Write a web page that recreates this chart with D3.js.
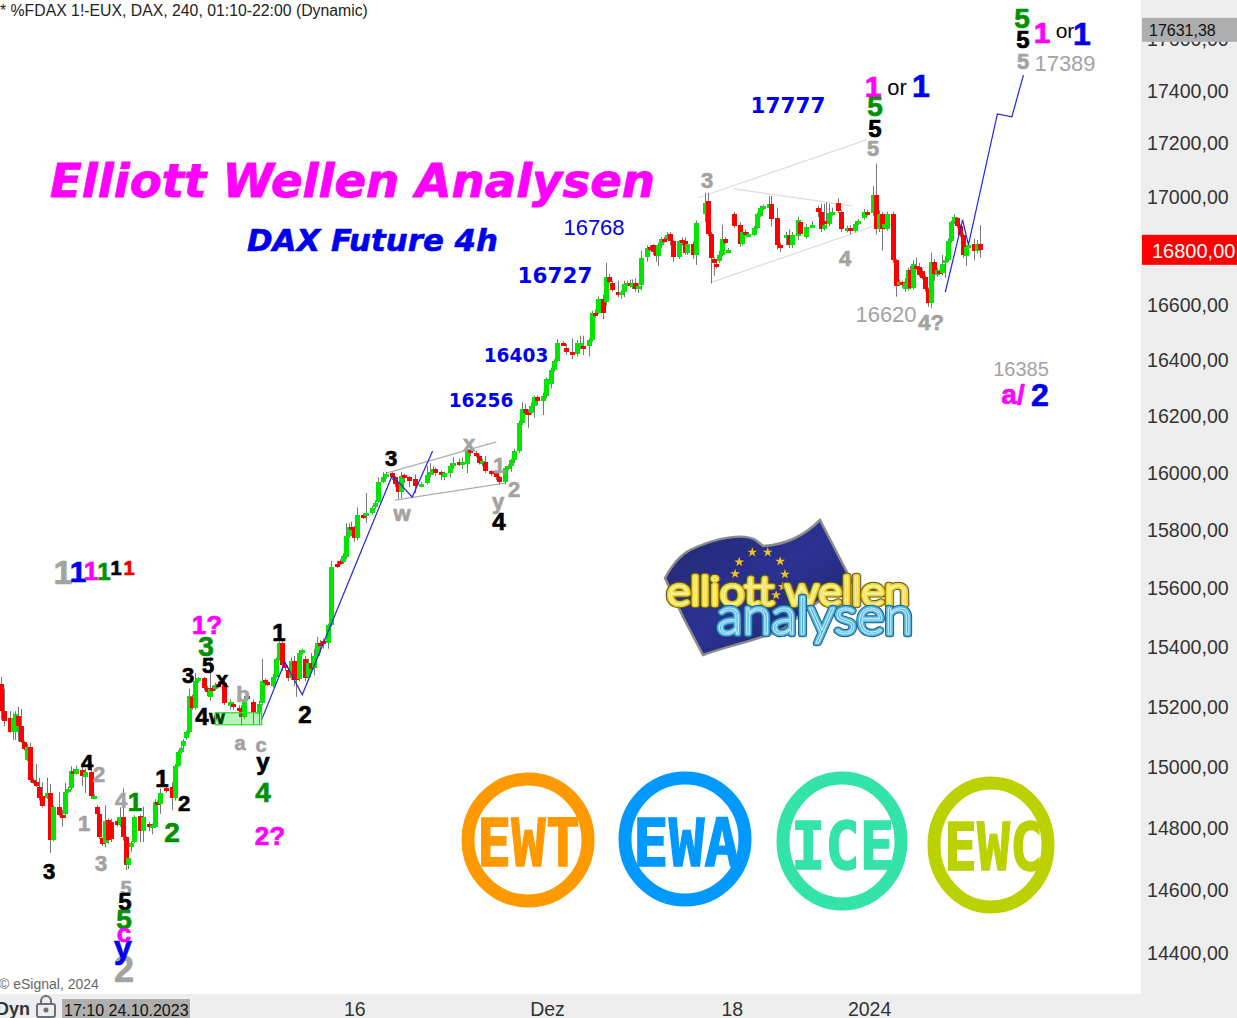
<!DOCTYPE html>
<html><head><meta charset="utf-8">
<script src="https://cdnjs.cloudflare.com/ajax/libs/d3/7.9.0/d3.min.js"></script>
<style>html,body{margin:0;padding:0;background:#fff;overflow:hidden}svg{display:block}text{font-family:"Liberation Sans",Arial,sans-serif}</style>
</head><body><svg id="c" width="1237" height="1018"></svg>
<script>
// candles: [bar, open, high, low, close]
const octoberCandles=[[0,15277,15300,15157,15187],[1,15187,15260,15135,15153],[3,15163,15185,15113,15117],[4,15117,15180,15090,15163],[5,15117,15185,15090,15175],[6,15170,15200,15085,15135],[7,15135,15193,15080,15082],[8,15082,15088,15055,15060],[9,15023,15076,15020,15066],[10,15066,15080,14950,14958],[11,14958,14965,14945,14950],[12,14950,15010,14935,14938],[13,14935,14965,14890,14900],[14,14905,14950,14868,14873],[16,14900,14965,14895,14916],[17,14916,14945,14720,14762],[18,14762,14875,14758,14868],[20,14868,14918,14838,14842],[21,14842,14860,14805,14838],[22,14845,14948,14832,14918],[23,14918,14935,14915,14928],[24,14932,15003,14925,14987],[25,14987,14995,14975,14980],[26,14978,15005,14975,14994],[28,14990,15000,14938,14970],[29,14968,14995,14915,14985],[31,14985,15015,14895,14906],[32,14900,14910,14895,14906],[33,14870,14875,14842,14845],[34,14845,14850,14765,14770],[35,14768,14770,14742,14750],[36,14752,14875,14738,14825],[37,14828,14832,14750,14762],[38,14820,14830,14755,14765],[40,14825,14835,14805,14810],[41,14810,14868,14805,14835],[42,14838,14930,14760,14770],[43,14770,14775,14665,14680],[44,14680,14710,14668,14704],[45,14740,14758,14725,14752],[46,14755,14842,14752,14835],[48,14840,14845,14755,14790],[49,14790,14870,14755,14835],[51,14815,14820,14790,14803],[52,14803,14815,14780,14810],[53,14803,14895,14800,14885],[54,14885,14890,14870,14878],[55,14878,14930,14847,14915],[57,14930,14935,14915,14922],[59,14935,14950,14858,14898],[60,14898,15010,14890,15003],[61,15003,15055,15000,15050],[62,15050,15068,15045,15063],[63,15070,15092,15050,15087],[64,15095,15120,15090,15115],[65,15115,15260,15110,15237],[66,15233,15240,15190,15197],[67,15197,15313,15190,15285],[68,15285,15300,15280,15297],[70,15297,15300,15255,15263],[71,15263,15270,15235,15250],[72,15233,15367,15220,15260],[73,15262,15270,15250,15255],[74,15260,15280,15255,15273],[75,15275,15285,15265,15270],[77,15280,15300,15205,15213],[79,15203,15225,15190,15216],[80,15210,15215,15190,15205],[82,15197,15205,15180,15187],[83,15197,15205,15137,15167],[84,15167,15235,15160,15227],[85,15235,15240,15220,15228],[87,15217,15225,15140,15180],[89,15177,15220,15140,15210]];
const novemberCandles=[[90,15213,15360,15205,15285],[91,15290,15295,15270,15280],[92,15283,15290,15268,15273],[94,15270,15310,15265,15300],[95,15300,15365,15295,15360],[96,15360,15420,15355,15414],[97,15414,15420,15320,15340],[98,15340,15350,15320,15333],[99,15322,15330,15285,15296],[100,15296,15365,15290,15353],[101,15353,15370,15270,15290],[102,15300,15320,15233,15290],[103,15293,15390,15285,15380],[104,15380,15395,15375,15390],[105,15360,15370,15285,15296],[106,15300,15360,15290,15345],[107,15345,15380,15320,15328],[108,15330,15395,15305,15370],[109,15370,15435,15365,15414],[110,15414,15425,15380,15408],[111,15420,15430,15395,15414],[113,15414,15480,15395,15475],[114,15475,15695,15470,15672],[116,15685,15695,15670,15678],[117,15695,15700,15680,15688],[118,15690,15720,15685,15710],[119,15708,15825,15700,15782],[120,15782,15825,15775,15810],[121,15810,15830,15800,15805],[122,15810,15815,15760,15772],[123,15772,15880,15765,15855],[125,15855,15860,15840,15848],[126,15850,15930,15825,15860],[128,15860,15885,15855,15877],[129,15880,15905,15875,15895],[130,15900,15985,15895,15970],[132,15970,16003,15965,15987],[133,15985,16005,15980,15998],[135,16000,16003,15975,15985],[136,15985,15990,15950,15960],[137,15960,15965,15910,15935],[138,15935,16005,15912,15990],[139,15993,15998,15965,15985],[141,15985,15990,15950,15973],[143,15980,15995,15930,15955],[145,15955,15968,15950,15962],[147,15965,16025,15960,15993],[148,15993,16035,15985,16003],[149,16003,16025,15995,16013],[150,16013,16020,15990,16000],[152,16003,16010,15975,15993],[153,15987,16005,15975,16000],[155,16000,16035,15985,16026],[156,16026,16055,16015,16036],[158,16040,16050,16025,16032],[159,16030,16055,16015,16040],[161,16033,16090,16000,16078],[162,16080,16090,16060,16070],[164,16070,16078,16055,16066],[165,16060,16065,16030,16036],[166,16036,16050,16025,16042],[167,16040,16060,16000,16006],[169,16006,16010,15990,15998],[171,16000,16005,15975,15985],[172,15985,15990,15960,15970],[174,15970,16025,15960,16017],[175,16020,16030,16010,16024],[176,16024,16050,16005,16045],[177,16045,16085,16035,16078],[179,16078,16185,16070,16178],[180,16178,16250,16170,16225],[181,16228,16245,16205,16214],[182,16215,16225,16160,16210],[183,16214,16250,16208,16236],[184,16236,16275,16195,16268],[185,16268,16275,16240,16254],[187,16254,16285,16205,16272],[188,16272,16340,16265,16334]];
const decemberCandles=[[190,16315,16375,16300,16368],[191,16368,16405,16360,16400],[192,16400,16478,16395,16465],[194,16465,16470,16455,16462],[195,16447,16460,16420,16430],[197,16432,16480,16405,16425],[199,16425,16475,16415,16465],[200,16455,16490,16440,16465],[201,16454,16490,16420,16450],[203,16454,16480,16415,16476],[204,16474,16580,16468,16574],[205,16574,16585,16555,16560],[206,16574,16632,16568,16622],[208,16622,16640,16550,16574],[209,16611,16756,16600,16704],[210,16704,16715,16680,16685],[211,16682,16690,16650,16656],[213,16648,16690,16630,16640],[214,16640,16655,16625,16648],[215,16648,16690,16630,16678],[216,16678,16690,16670,16682],[217,16682,16695,16665,16675],[218,16667,16695,16660,16682],[219,16682,16700,16650,16660],[220,16660,16680,16645,16670],[221,16675,16800,16655,16775],[223,16778,16820,16760,16812],[224,16815,16822,16800,16808],[225,16820,16825,16785,16796],[226,16796,16800,16760,16782],[227,16782,16830,16745,16822],[228,16822,16850,16810,16845],[229,16845,16852,16830,16838],[230,16845,16870,16840,16860],[231,16863,16870,16820,16838],[232,16835,16840,16760,16778],[234,16778,16840,16770,16835],[235,16840,16850,16820,16832],[236,16838,16850,16785,16792],[237,16792,16835,16785,16826],[239,16826,16835,16770,16785],[240,16785,16912,16748,16903],[243,16937,17015,16905,16978],[244,16985,17015,16855,16863],[245,16863,16870,16680,16775],[246,16770,16775,16708,16755],[247,16752,16760,16735,16745],[248,16762,16800,16755,16785],[249,16785,16896,16780,16845],[250,16842,16850,16825,16830],[251,16798,16810,16795,16803],[253,16935,16945,16885,16892],[255,16897,16905,16815,16826],[256,16826,16878,16820,16870],[257,16870,16880,16855,16863],[258,16858,16870,16850,16862],[260,16860,16892,16855,16885],[261,16885,16942,16880,16935],[262,16930,16968,16925,16960],[263,16958,16972,16950,16965],[265,16960,17003,16955,16975],[266,16975,17003,16890,16918],[268,16922,16960,16805,16822],[269,16822,16830,16795,16815],[271,16850,16870,16820,16858],[272,16860,16880,16810,16820],[273,16820,16870,16810,16860],[275,16856,16925,16840,16915],[276,16905,16912,16855,16863],[278,16852,16900,16845,16890],[280,16890,16910,16885,16897],[282,16960,16968,16925,16945],[283,16945,16975,16870,16882],[284,16882,16975,16875,16897],[285,16912,16980,16890,16905],[286,16900,16975,16890,16940],[287,16938,16960,16930,16945],[289,16978,16995,16940,16948],[290,16945,16950,16870,16882],[292,16875,16893,16868,16885],[293,16885,16895,16860,16875],[295,16873,16910,16868,16900],[296,16900,16918,16895,16910],[298,16920,16955,16915,16945],[299,16945,16952,16930,16937]];
const januaryCandles=[[301,16940,17040,16930,17008],[302,17008,17125,16860,16882],[303,16880,16950,16870,16935],[304,16935,16945,16800,16882],[305,16885,16905,16878,16898],[306,16880,16945,16875,16935],[308,16935,16945,16755,16765],[309,16765,16770,16632,16670],[310,16675,16695,16670,16685],[311,16685,16690,16665,16675],[312,16660,16700,16650,16680],[313,16660,16738,16655,16730],[314,16730,16745,16658,16664],[315,16664,16765,16658,16752],[316,16745,16775,16730,16738],[317,16742,16755,16705,16712],[318,16727,16735,16695,16700],[319,16704,16710,16650,16660],[320,16660,16665,16595,16610],[321,16610,16793,16590,16760],[322,16760,16770,16690,16715],[323,16712,16738,16705,16730],[324,16725,16732,16710,16718],[325,16720,16785,16710,16752],[326,16760,16780,16700,16768],[327,16768,16845,16760,16837],[328,16837,16912,16830,16905],[329,16908,16935,16900,16925],[330,16920,16925,16885,16892],[331,16892,16898,16850,16860],[332,16860,16865,16775,16785],[333,16782,16822,16745,16815],[334,16812,16828,16800,16820],[336,16825,16845,16765,16800],[337,16800,16840,16790,16825],[338,16825,16895,16775,16802]];

// wave and channel lines: [bar, price]
const impulseLineA=[[90,15157],[98,15350],[104,15240],[135,15990],[138,15960],[142,15916],[149,16078]];
const projectionLine=[[326,16648],[332,16915],[334,16822],[344,17313],[349,17302],[353,17461]];
const channelDark=[[[133,16000],[171,16110]],[[136,15905],[174,15965]]];
const channelLight=[[[240.5,16996],[299,17215]],[[245,16683],[301,16890]],[[253,17030],[294,16967]]];
const zoneBars=[74,90]; const zonePrices=[15180,15140];

const yTicks=[17600,17400,17200,17000,16800,16600,16400,16200,16000,15800,15600,15400,15200,15000,14800,14600,14400];
const xTickBars=[122,188.5,252.3,299.7]; const xTickLabels=["16","Dez","18","2024"];
const lastPrice=16800; const markerPrice=17631.38;
const chartTitle="* %FDAX 1!-EUX, DAX, 240, 01:10-22:00 (Dynamic)";

const GREY="#a3a3a3",BLK="#000",GRN="#009100",MAG="#ff00ff",BLU="#0000f0";
// [text, centre x, baseline y, size, colour, bold]
const waveLabels=[
["1",63,584,34,GREY,1],["1",78,582,30,BLU,1],["1",91,580,26,MAG,1],["1",104,580,24,GRN,1],["1",116,575,20,BLK,1],["1",129,575,20,"#f00000",1],
["5",1022,28,28,GRN,1],["5",1023,48,24,BLK,1],["5",1023,69,22,GREY,1],["1",1042,43,30,MAG,1],["or",1065,38,21,BLK,0],["1",1082,45,32,BLU,1],
["1",873,97,30,MAG,1],["or",897,95,22,BLK,0],["1",921,97,32,BLU,1],["5",875,116,28,GRN,1],["5",875,137,24,BLK,1],["5",873,156,22,GREY,1],
["3",707,188,22,GREY,1],["4",845,266,22,GREY,1],["4?",931,330,22,GREY,1],["a/",1013,404,28,MAG,1],["2",1040,406,32,BLU,1],
["3",391,466,22,BLK,1],["x",469,451,22,GREY,1],["1",499,473,22,GREY,1],["2",514,497,22,GREY,1],["y",498,509,22,GREY,1],["4",499,530,24,BLK,1],["w",402,521,22,GREY,1],
["1?",207,634,26,MAG,1],["3",206,656,28,GRN,1],["5",208,673,22,BLK,1],["3",188,683,22,BLK,1],["x",222,687,22,BLK,1],["1",279,641,24,BLK,1],["2",305,723,24,BLK,1],
["4",202,725,24,BLK,1],["w",217,724,20,BLK,1],["b",243,702,22,GREY,1],["a",240,750,20,GREY,1],["c",261,752,20,GREY,1],["y",263,770,24,BLK,1],["4",263,802,28,GRN,1],["2?",270,845,26,MAG,1],
["1",162,787,24,BLK,1],["2",184,811,22,BLK,1],["2",172,842,28,GRN,1],["1",135,811,26,GRN,1],["4",121,808,22,GREY,1],["2",99,782,22,GREY,1],["4",87,770,22,BLK,1],["1",84,831,22,GREY,1],["3",101,871,22,GREY,1],["3",49,879,22,BLK,1],
["5",126,895,20,GREY,1],["5",125,910,24,BLK,1],["5",124,929,28,GRN,1],["2",124,982,36,GREY,1],["c",124,942,26,MAG,1],["y",123,958,32,BLU,1]];
const levelLabels=[["16768",594,235,22,BLU,0],["17389",1065,71,22,GREY,0],["16620",886,322,22,GREY,0],["16385",1021,376,20,GREY,0]];
const targetLabels=[["17777",788,113,21.5],["16727",555,283,21.5],["16403",516,362,18.6],["16256",481,407,18.6]];

const badges=[["EWT",528,840,60,61,"#ff9900",477,103,866],["EWA",685,839,60,61,"#0099ff",633,107,866],["ICE",842,841,59,63,"#33e3aa",791,103,869],["EWC",991,845,57,62,"#bbd100",944,99,870]];
const starAngles=[-175,-146,-108,-72,-36,-4,25,50];

const svg=d3.select("#c");
const candles=[].concat(octoberCandles,novemberCandles,decemberCandles,januaryCandles);
const x=d3.scaleLinear().domain([0,338]).range([1,980]);
const y=d3.scaleLog().domain([14400,17400]).range([953,91]);
const lineGen=d3.line().x(d=>x(d[0])).y(d=>y(d[1]));
const num=d3.formatLocale({decimal:",",thousands:"",grouping:[3],currency:["",""]}).format(".2f");

// channels
svg.append("g").selectAll("path").data(channelLight).join("path").attr("d",lineGen).attr("fill","none").attr("stroke","#dcdcdc").attr("stroke-width",1.2);
svg.append("g").selectAll("path").data(channelDark).join("path").attr("d",lineGen).attr("fill","none").attr("stroke","#aeaeae").attr("stroke-width",1.2);

// candles
const cg=svg.append("g");
cg.selectAll("line").data(candles).join("line").attr("x1",d=>Math.round(x(d[0]))+.5).attr("x2",d=>Math.round(x(d[0]))+.5)
 .attr("y1",d=>y(d[2])).attr("y2",d=>y(d[3])).attr("stroke","#777").attr("stroke-width",1);
cg.selectAll("rect").data(candles).join("rect").attr("shape-rendering","crispEdges")
 .attr("x",d=>Math.round(x(d[0]))-2).attr("width",5)
 .attr("y",d=>Math.min(y(d[1]),y(d[4]))).attr("height",d=>Math.max(3,Math.abs(y(d[1])-y(d[4]))))
 .attr("fill",d=>d[4]>=d[1]?"#00e600":"#ff0000");

// blue wave lines
[impulseLineA,projectionLine].forEach(l=>svg.append("path").attr("d",lineGen(l)).attr("fill","none").attr("stroke","#2424e6").attr("stroke-width",1.2));

// title
svg.append("text").attr("x",0).attr("y",16).attr("font-size",15.8).attr("fill","#222").text(chartTitle);
svg.append("text").attr("x",-1).attr("y",989).attr("font-size",14).attr("fill","#666").text("© eSignal, 2024");
svg.append("text").attr("x",50).attr("y",197).attr("textLength",605).attr("lengthAdjust","spacingAndGlyphs")
 .style("font-family","'DejaVu Sans'").attr("font-weight",700).attr("font-style","italic").attr("font-size",47).attr("fill","#ff00ff").attr("stroke","#ff00ff").attr("stroke-width",.9).text("Elliott Wellen Analysen");
svg.append("text").attr("x",247).attr("y",251).attr("textLength",251).attr("lengthAdjust","spacingAndGlyphs")
 .style("font-family","'DejaVu Sans'").attr("font-weight",700).attr("font-style","italic").attr("font-size",31).attr("fill","#0000f0").attr("stroke","#0000f0").attr("stroke-width",.6).text("DAX Future 4h");

// labels
svg.append("g").selectAll("text").data(waveLabels.concat(levelLabels)).join("text").attr("text-anchor","middle")
 .attr("x",d=>d[1]).attr("y",d=>d[2]).attr("font-size",d=>d[3]).attr("fill",d=>d[4]).attr("font-weight",d=>d[5]?700:400)
 .attr("stroke",d=>d[5]?d[4]:"none").attr("stroke-width",.7).text(d=>d[0]);
svg.append("g").selectAll("text").data(targetLabels).join("text").attr("text-anchor","middle").style("font-family","'DejaVu Sans'")
 .attr("x",d=>d[1]).attr("y",d=>d[2]).attr("font-size",d=>d[3]).attr("font-weight",700).attr("fill",BLU).text(d=>d[0]);

// highlighted zone, laid translucently over the labels as in the original
svg.append("rect").attr("x",x(zoneBars[0])).attr("y",y(zonePrices[0])).attr("width",x(zoneBars[1])-x(zoneBars[0])).attr("height",y(zonePrices[1])-y(zonePrices[0]))
 .attr("fill","#00dc00").attr("fill-opacity",.28).attr("stroke","#35e035").attr("stroke-width",1.3);

// logo
const logo=svg.append("g");
const defs=svg.append("defs");
const lg=defs.append("linearGradient").attr("id","flag").attr("x1",0).attr("y1",0).attr("x2",1).attr("y2",1);
lg.append("stop").attr("offset",0).attr("stop-color","#23286f");lg.append("stop").attr("offset",.5).attr("stop-color","#2b3192");lg.append("stop").attr("offset",1).attr("stop-color","#1f2468");
logo.append("path").attr("d","M665,578 C672,565 680,555 690,550 C715,538 745,532 757,541 L763,546 C785,545 805,535 820,520 L852,582 C835,590 810,606 785,628 C760,640 730,645 703,655 L683,617 Z")
 .attr("fill","url(#flag)").attr("stroke","#8c8c8c").attr("stroke-width",2.5);
logo.append("g").selectAll("path").data(starAngles).join("path").attr("d",d3.symbol(d3.symbolStar,30))
 .attr("transform",d=>`translate(${760+25*Math.cos(d*Math.PI/180)},${576+25*Math.sin(d*Math.PI/180)})`).attr("fill","#f2c31a");
const logoText=(t,xp,yp,len,size,outer,mid,inner)=>{
  [[outer,6.5],[mid,4.5],[inner,1.2]].forEach(([c,w])=>logo.append("text").attr("x",xp).attr("y",yp).attr("textLength",len).attr("lengthAdjust","spacingAndGlyphs")
   .style("font-family","Lato").attr("font-weight",300).attr("font-size",size).attr("fill","none").attr("stroke",c).attr("stroke-width",w).attr("stroke-linejoin","round").text(t));
};
logoText("elliott  wellen",667,605,242,40,"#5f5610","#e6d22f","#fbf3a0");
logoText("analysen",717,634,196,52,"#1a5f8a","#4fb4e0","#bfe8f7");

// badges
const bg=svg.append("g").selectAll("g").data(badges).join("g");
bg.append("ellipse").attr("cx",d=>d[1]).attr("cy",d=>d[2]).attr("rx",d=>d[3]).attr("ry",d=>d[4]).attr("fill","none").attr("stroke",d=>d[5]).attr("stroke-width",13);
bg.append("text").attr("x",d=>d[6]).attr("y",d=>d[8]).attr("textLength",d=>d[7]).attr("lengthAdjust","spacingAndGlyphs").style("font-family","'DejaVu Sans Mono'")
 .attr("font-weight",700).attr("font-size",66).attr("fill",d=>d[5]).attr("stroke",d=>d[5]).attr("stroke-width",1.4).text(d=>d[0]);

// axes panels
svg.append("rect").attr("x",1141).attr("y",0).attr("width",96).attr("height",1018).attr("fill","#eee");
svg.append("rect").attr("x",0).attr("y",994).attr("width",1237).attr("height",24).attr("fill","#eee");

const yAxis=d3.axisRight(y).tickValues(yTicks).tickSize(0).tickPadding(0).tickFormat(num);
const ya=svg.append("g").attr("transform","translate(1147,0)").call(yAxis);
ya.select(".domain").remove();
ya.selectAll("text").attr("font-size",19.6).attr("fill","#333").style("font-family","'Liberation Sans'");

const xAxis=d3.axisBottom(x).tickValues(xTickBars).tickSize(0).tickPadding(0).tickFormat((d,i)=>xTickLabels[i]);
const xa=svg.append("g").attr("transform","translate(0,1002)").call(xAxis);
xa.select(".domain").remove();
xa.selectAll("text").attr("font-size",19.5).attr("fill","#333").style("font-family","'Liberation Sans'");

// price markers
svg.append("rect").attr("x",1142).attr("y",y(markerPrice)-13).attr("width",95).attr("height",24).attr("fill","#aeaeae");
svg.append("text").attr("x",1149).attr("y",y(markerPrice)+5).attr("font-size",16).attr("fill","#111").text(num(markerPrice));
svg.append("rect").attr("x",1142).attr("y",y(lastPrice)-16).attr("width",95).attr("height",30).attr("fill","#f00");
svg.append("text").attr("x",1152).attr("y",y(lastPrice)+7).attr("font-size",20).attr("fill","#fff").text(num(lastPrice));

// bottom bar
svg.append("text").attr("x",-4).attr("y",1015).attr("font-size",18).attr("font-weight",700).attr("fill","#333").text("Dyn");
const lock=svg.append("g").attr("fill","none").attr("stroke","#6b6f78").attr("stroke-width",2);
lock.append("rect").attr("x",37).attr("y",1004).attr("width",18).attr("height",13).attr("rx",2);
lock.append("path").attr("d","M41,1004 v-3 a5,5 0 0 1 10,0 v3");
lock.append("circle").attr("cx",46).attr("cy",1010).attr("r",1.5).attr("fill","#6b6f78");
svg.append("rect").attr("x",62).attr("y",999).attr("width",128).attr("height",19).attr("fill","#aeaeae");
svg.append("text").attr("x",64).attr("y",1016).attr("font-size",16).attr("fill","#111").text("17:10 24.10.2023");
</script></body></html>
